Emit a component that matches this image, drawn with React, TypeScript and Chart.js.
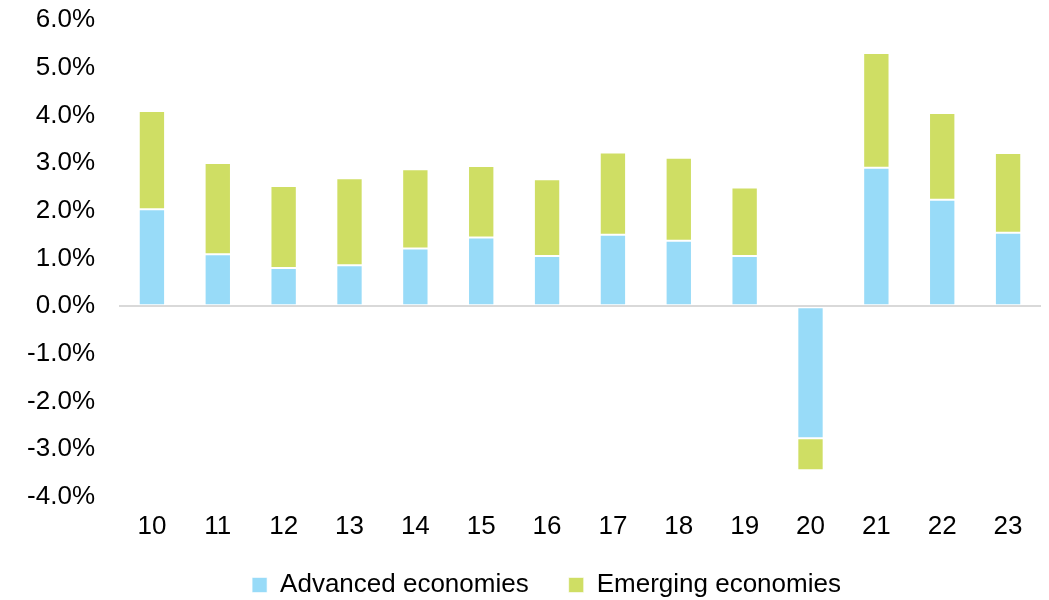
import React, { useEffect, useRef } from "react";
import { Chart, registerables } from "chart.js";

Chart.register(...registerables);

const categories = ["10", "11", "12", "13", "14", "15", "16", "17", "18", "19", "20", "21", "22", "23"];
const advanced = [2.03, 1.09, 0.8, 0.86, 1.21, 1.44, 1.05, 1.5, 1.37, 1.05, -2.77, 2.9, 2.23, 1.54];
const emerging = [2.06, 1.91, 1.72, 1.82, 1.66, 1.5, 1.61, 1.72, 1.74, 1.44, -0.67, 2.41, 1.82, 1.67];
const yTicks = [6, 5, 4, 3, 2, 1, 0, -1, -2, -3, -4];

const FONT = "'Liberation Sans', Arial, sans-serif";
const FS = 26;

const legendShift = {
  id: "legendShift",
  afterLayout(chart: any) {
    const lg = chart.legend;
    if (!lg) return;
    lg.left += 26;
    lg.right += 26;
    lg.top -= 10;
    lg.bottom = chart.height;
    lg.height = lg.bottom - lg.top;
  },
};

export default function App() {
  const ref = useRef<HTMLCanvasElement | null>(null);
  useEffect(() => {
    if (!ref.current) return;
    const chart = new Chart(ref.current, {
      type: "bar",
      plugins: [legendShift],
      data: {
        labels: categories,
        datasets: [
          {
            label: "Advanced economies",
            data: advanced,
            backgroundColor: "#98DBF8",
            borderColor: "rgba(255,255,255,0.6)",
            borderWidth: 1,
            borderSkipped: false,
            barPercentage: 0.4,
            categoryPercentage: 1,
          },
          {
            label: "Emerging economies",
            data: emerging,
            backgroundColor: "#CFDE64",
            borderColor: "rgba(255,255,255,0.6)",
            borderWidth: 1,
            borderSkipped: false,
            barPercentage: 0.4,
            categoryPercentage: 1,
          },
        ],
      },
      options: {
        animation: false,
        responsive: false,
        maintainAspectRatio: false,
        layout: { padding: { top: 20, right: 8, left: 0, bottom: 0 } },
        plugins: {
          tooltip: { enabled: false },
          legend: {
            position: "bottom",
            maxHeight: 58,
            labels: {
              font: { family: FONT, size: FS },
              color: "#000",
              boxWidth: 15,
              boxHeight: 15,
              padding: 40,
            },
          },
        },
        scales: {
          x: {
            stacked: true,
            grid: { display: false, drawTicks: false },
            border: { display: false },
            ticks: { font: { family: FONT, size: FS }, color: "#000", padding: 14 },
            afterFit: (s: any) => { s.height = 45; s.paddingLeft = 0; s.paddingRight = 0; },
          },
          y: {
            stacked: true,
            min: -4,
            max: 6,
            afterBuildTicks: (s: any) => { s.ticks = yTicks.map((v) => ({ value: v })); },
            grid: {
              drawTicks: false,
              lineWidth: 2,
              color: (ctx: any) => (ctx.tick && ctx.tick.value === 0 ? "#D9D9D9" : "rgba(0,0,0,0)"),
            },
            border: { display: false },
            ticks: {
              font: { family: FONT, size: FS },
              color: "#000",
              padding: 24,
              callback: (v: any) => Number(v).toFixed(1) + "%",
            },
            afterFit: (s: any) => { s.width = 119; s.paddingTop = 0; s.paddingBottom = 0; },
          },
        },
      },
    });
    return () => chart.destroy();
  }, []);
  return (
    <div style={{ position: "fixed", left: 0, top: 0, width: 1049, height: 600, background: "#fff" }}>
      <canvas ref={ref} width={1049} height={600} />
    </div>
  );
}
